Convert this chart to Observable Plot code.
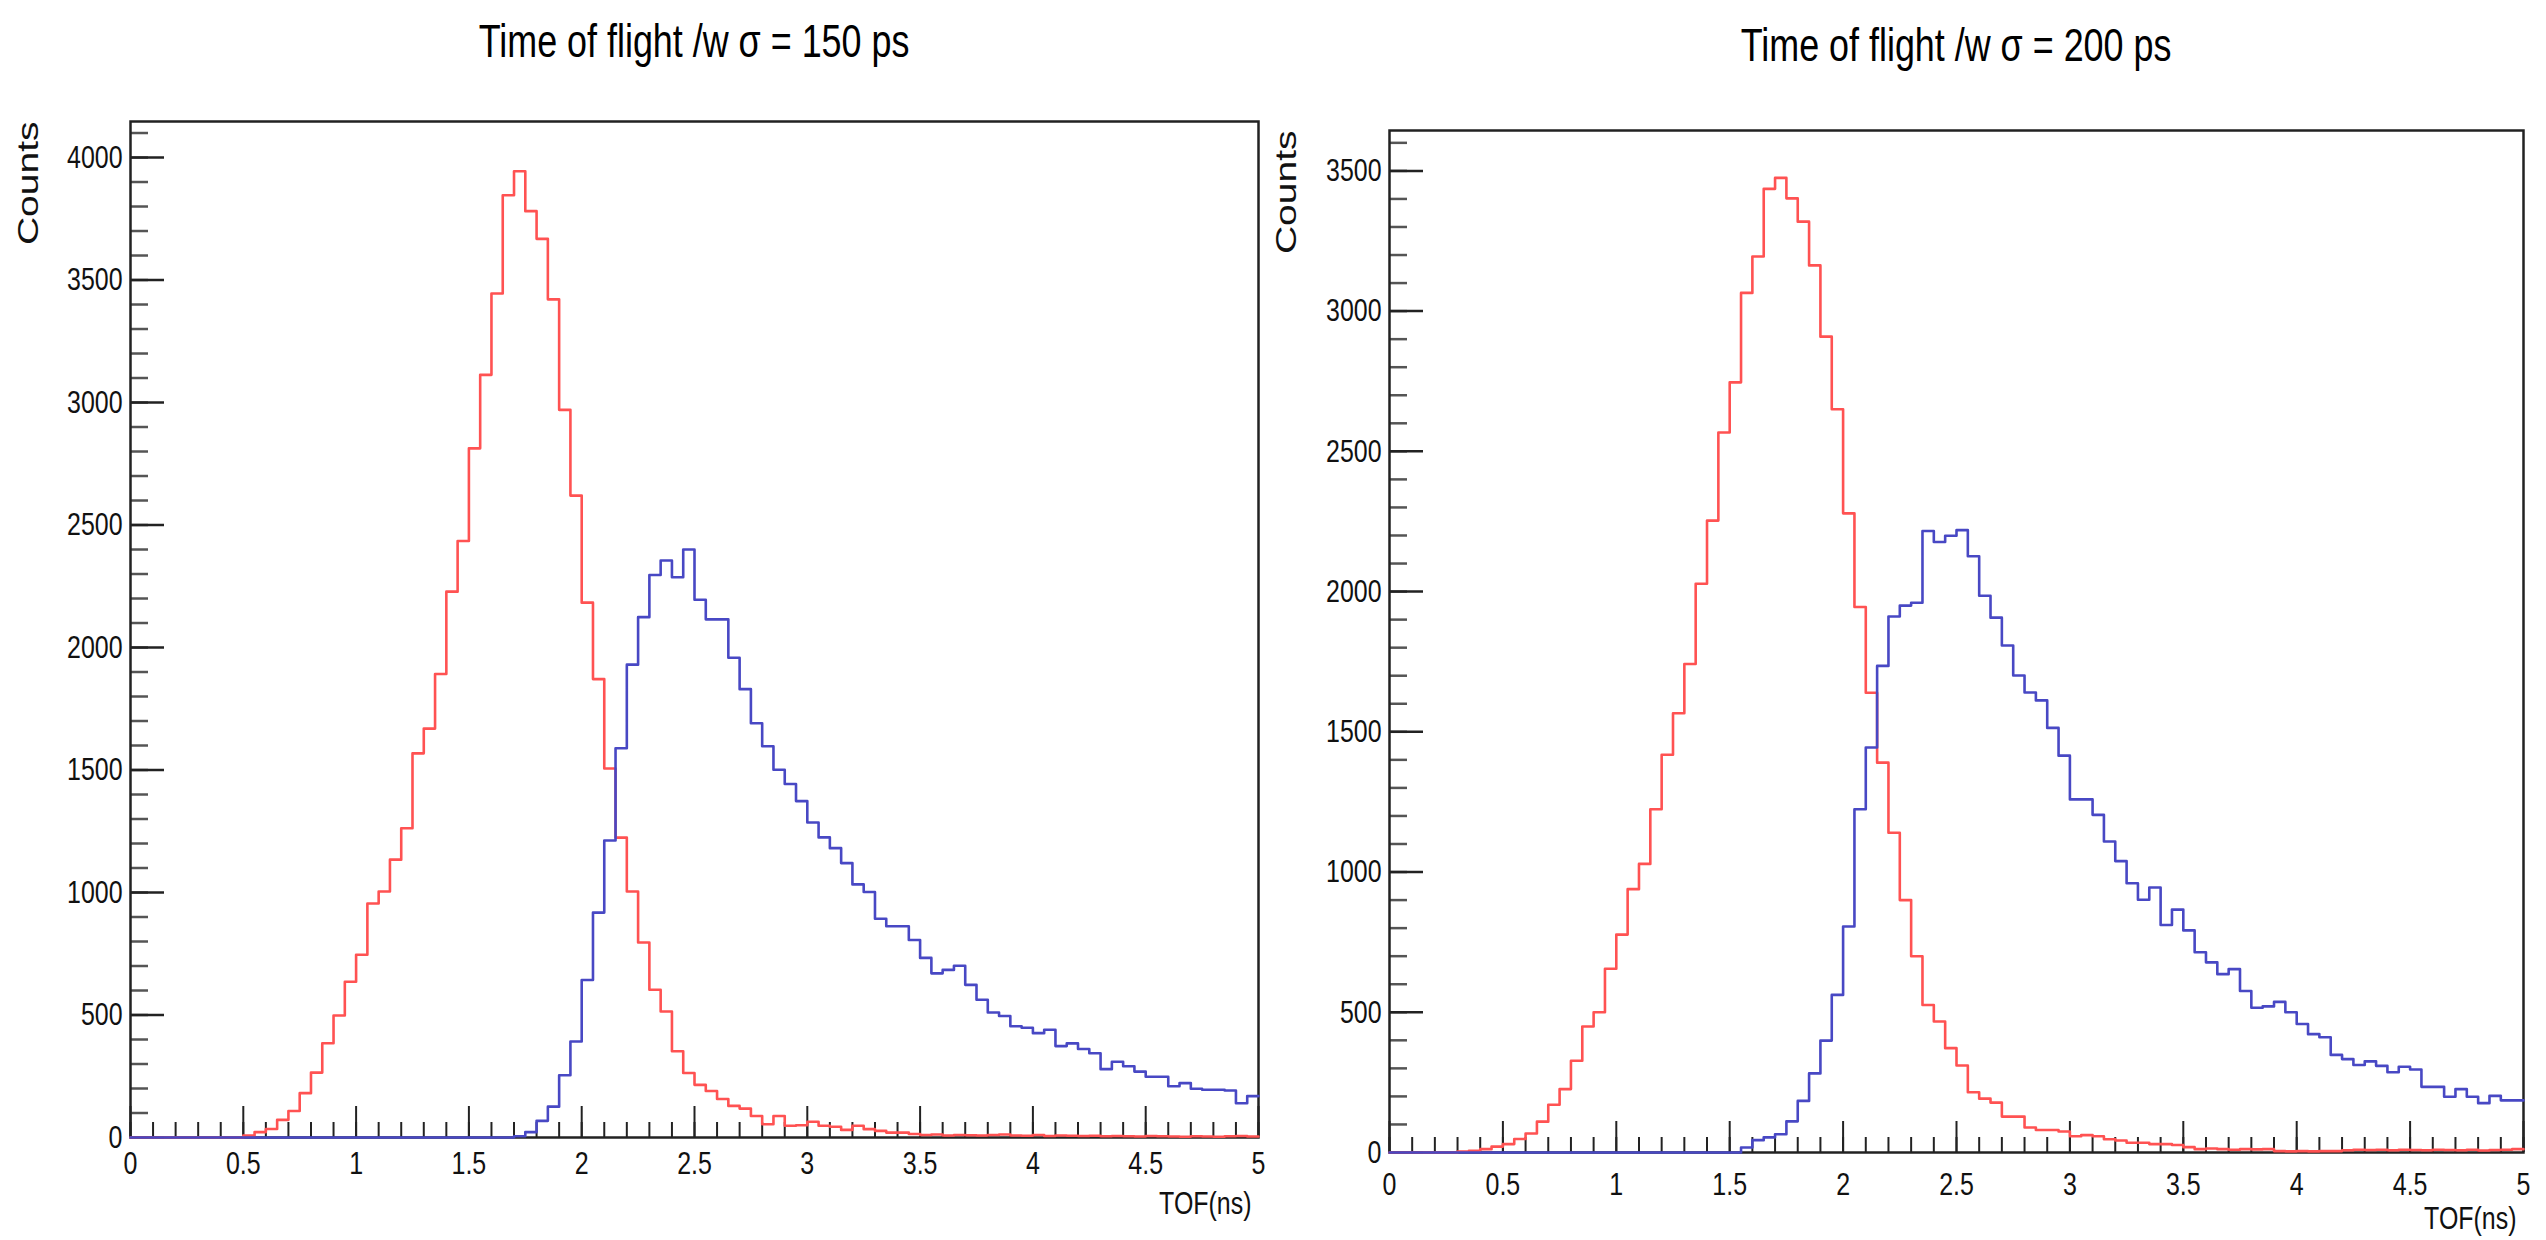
<!DOCTYPE html>
<html>
<head>
<meta charset="utf-8">
<script src="https://cdn.jsdelivr.net/npm/d3@7"></script>
<script src="https://cdn.jsdelivr.net/npm/@observablehq/plot@0.6"></script>
<style>
html, body { margin: 0; padding: 0; background: #fff; }
#root { position: relative; width: 2546px; height: 1240px; overflow: hidden; background: #fff; font-family: "Liberation Sans", Arial, Helvetica, sans-serif; }
.title { position: absolute; width: 1000px; text-align: center; font-size: 46px; line-height: 46px; color: #000; white-space: nowrap; }
.title span { display: inline-block; transform: scaleX(0.78); transform-origin: center; }
.panel { position: absolute; top: 80px; }
</style>
</head>
<body>
<div id="root"></div>
<script>
// ---------- data (histograms, 100 bins of 0.05 ns from 0 to 5 ns) ----------
const binWidth = 0.05;
const titles = ["Time of flight /w σ = 150 ps", "Time of flight /w σ = 200 ps"];
const xLabel = "TOF(ns)";
const yLabel = "Counts";
const xTickLabels = [0, 0.5, 1, 1.5, 2, 2.5, 3, 3.5, 4, 4.5, 5];
const yTickLabelsA = [0, 500, 1000, 1500, 2000, 2500, 3000, 3500, 4000];
const yTickLabelsB = [0, 500, 1000, 1500, 2000, 2500, 3000, 3500];

// σ = 150 ps, red histogram
const redA = [
  0, 0, 0, 0, 0, 0, 0, 0, 0, 0,
  8, 22, 35, 72, 108, 181, 265, 385, 498, 636,
  746, 955, 1004, 1134, 1262, 1568, 1669, 1892, 2228, 2435,
  2813, 3113, 3445, 3846, 3944, 3781, 3668, 3421, 2970, 2620,
  2183, 1871, 1506, 1224, 1004, 796, 603, 514, 352, 263,
  215, 190, 157, 129, 118, 88, 54, 88, 48, 50,
  64, 48, 44, 31, 48, 34, 27, 20, 20, 14,
  10, 12, 8, 10, 9, 8, 10, 12, 8, 7,
  10, 6, 8, 7, 6, 7, 5, 6, 5, 4,
  6, 5, 4, 3, 5, 4, 3, 5, 6, 4
];
// σ = 150 ps, blue histogram
const blueA = [
  0, 0, 0, 0, 0, 0, 0, 0, 0, 0,
  0, 0, 0, 0, 0, 0, 0, 0, 0, 0,
  0, 0, 0, 0, 0, 0, 0, 0, 0, 0,
  0, 0, 0, 0, 5, 22, 68, 126, 254, 392,
  643, 918, 1212, 1589, 1930, 2124, 2296, 2355, 2287, 2400,
  2195, 2115, 2115, 1958, 1830, 1691, 1597, 1501, 1443, 1373,
  1286, 1225, 1181, 1120, 1033, 1002, 893, 862, 862, 806,
  733, 670, 684, 701, 623, 562, 510, 496, 454, 448,
  426, 440, 373, 384, 361, 344, 279, 309, 291, 269,
  248, 248, 209, 222, 199, 195, 195, 192, 140, 169
];
// σ = 200 ps, red histogram
const redB = [
  0, 0, 0, 0, 0, 0, 3, 6, 12, 21,
  30, 48, 68, 110, 170, 226, 327, 449, 500, 655,
  777, 939, 1029, 1224, 1418, 1566, 1742, 2028, 2253, 2567,
  2746, 3065, 3195, 3436, 3475, 3402, 3319, 3163, 2909, 2650,
  2279, 1945, 1639, 1390, 1140, 900, 700, 526, 467, 372,
  310, 215, 192, 178, 128, 128, 89, 80, 80, 75,
  58, 62, 58, 47, 43, 35, 35, 30, 30, 27,
  19, 12, 14, 12, 10, 12, 11, 12, 5, 4,
  5, 4, 5, 5, 8, 10, 9, 10, 8, 10,
  9, 8, 10, 9, 8, 10, 7, 9, 10, 12
];
// σ = 200 ps, blue histogram
const blueB = [
  0, 0, 0, 0, 0, 0, 0, 0, 0, 0,
  0, 0, 0, 0, 0, 0, 0, 0, 0, 0,
  0, 0, 0, 0, 0, 0, 0, 0, 0, 0,
  0, 18, 44, 54, 65, 111, 184, 282, 399, 562,
  806, 1224, 1444, 1735, 1911, 1950, 1960, 2216, 2177, 2199,
  2219, 2126, 1985, 1907, 1808, 1701, 1640, 1612, 1514, 1415,
  1259, 1259, 1204, 1109, 1039, 960, 901, 945, 811, 866,
  792, 714, 678, 636, 654, 576, 516, 521, 537, 500,
  458, 422, 411, 348, 333, 312, 325, 309, 286, 306,
  296, 234, 234, 199, 226, 199, 176, 202, 186, 186
];

// ---------- layout / style ----------
const RED = "#ff5252";
const BLUE = "#4848c4";
const AXIS = "#222";

const panels = [
  { title: titles[0], red: redA, blue: blueA, yTicks: yTickLabelsA, yMax: 4147,
    left: 0, width: 1273, height: 1160, mL: 130, mR: 15, mT: 41, mB: 103,
    titleCenter: 694, titleTop: 18, xPad: 14, countsDx: -102 },
  { title: titles[1], red: redB, blue: blueB, yTicks: yTickLabelsB, yMax: 3644,
    left: 1258, width: 1288, height: 1160, mL: 131, mR: 23, mT: 50, mB: 88,
    titleCenter: 1956, titleTop: 22, xPad: 20, countsDx: -103 }
];

function steps(vals) {
  const pts = vals.map((v, i) => ({ x: i * binWidth, y: v }));
  pts.push({ x: vals.length * binWidth, y: vals[vals.length - 1] });
  return pts;
}

const root = document.getElementById("root");

for (const p of panels) {
  const frameW = p.width - p.mL - p.mR;
  const frameH = p.height - p.mT - p.mB;
  const xMinor = d3.range(0, 51).map(i => i / 10);
  const yMinor = d3.range(0, Math.floor(p.yMax / 100) + 1).map(i => i * 100);

  const chart = Plot.plot({
    width: p.width,
    height: p.height,
    marginLeft: p.mL,
    marginRight: p.mR,
    marginTop: p.mT,
    marginBottom: p.mB,
    style: { fontFamily: "'Liberation Sans', Arial, Helvetica, sans-serif", fontSize: "32px", color: "#111", background: "transparent", overflow: "visible" },
    x: { domain: [0, 5], ticks: xTickLabels, tickSize: 0, tickPadding: p.xPad, tickFormat: d => String(d), label: null },
    y: { domain: [0, p.yMax], ticks: p.yTicks, tickSize: 0, tickPadding: 8, tickFormat: d => String(d), label: null },
    marks: [
      Plot.tickX(xMinor, { x: d => d, insetTop: frameH - 15, stroke: AXIS, strokeWidth: 2 }),
      Plot.tickX(xTickLabels, { x: d => d, insetTop: frameH - 31, stroke: AXIS, strokeWidth: 2 }),
      Plot.tickY(yMinor, { y: d => d, insetRight: frameW - 18, stroke: "#555", strokeWidth: 2.5 }),
      Plot.tickY(p.yTicks, { y: d => d, insetRight: frameW - 34, stroke: AXIS, strokeWidth: 2.5 }),
      Plot.frame({ stroke: AXIS, strokeWidth: 2.5 }),
      Plot.line(steps(p.red), { x: "x", y: "y", curve: "step-after", stroke: RED, strokeWidth: 2.6 }),
      Plot.line(steps(p.blue), { x: "x", y: "y", curve: "step-after", stroke: BLUE, strokeWidth: 2.6 }),
      Plot.text([yLabel], { text: d => d, frameAnchor: "top-left", rotate: -90, textAnchor: "end", lineAnchor: "middle", dx: p.countsDx, fontSize: 30, fill: "#111" }),
      Plot.text([xLabel], { text: d => d, frameAnchor: "bottom-right", textAnchor: "end", lineAnchor: "middle", dx: -7, dy: 66, fontSize: 32, fill: "#111" })
    ]
  });
  chart.classList.add("panel");
  chart.style.left = p.left + "px";
  root.appendChild(chart);

  // condensed lettering (the original figure's text is narrow and tall)
  chart.querySelectorAll("text").forEach(t => {
    const tr = t.getAttribute("transform") || "";
    const len = t.getComputedTextLength();
    if (!(len > 0)) return;
    const k = tr.includes("rotate") ? 1.3 : 0.78;
    t.setAttribute("textLength", (len * k).toFixed(1));
    t.setAttribute("lengthAdjust", "spacingAndGlyphs");
  });

  const title = document.createElement("div");
  title.className = "title";
  title.style.left = (p.titleCenter - 500) + "px";
  title.style.top = p.titleTop + "px";
  const span = document.createElement("span");
  span.textContent = p.title;
  title.appendChild(span);
  root.appendChild(title);
}
</script>
</body>
</html>
